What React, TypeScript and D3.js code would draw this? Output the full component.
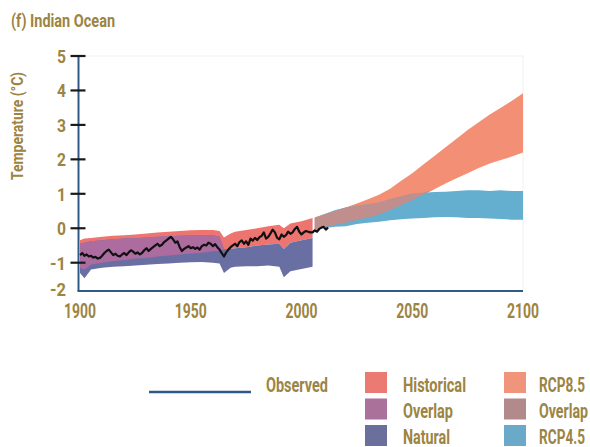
import React from "react";
import * as d3 from "d3";

// ---------- data ----------
const HIST_YEARS = [1900, 1902, 1905, 1910, 1915, 1920, 1925, 1930, 1935, 1940, 1945, 1950, 1955, 1960, 1963, 1965, 1968, 1970, 1975, 1980, 1985, 1990, 1992, 1995, 2000, 2005];
const HIST_UPPER = [-0.35, -0.3, -0.28, -0.25, -0.22, -0.2, -0.18, -0.15, -0.12, -0.1, -0.08, -0.06, -0.05, -0.05, -0.08, -0.27, -0.15, -0.1, -0.05, 0.0, 0.06, 0.1, 0.0, 0.14, 0.2, 0.3];
const HIST_LOWER = [-1.15, -1.2, -1.05, -1.0, -0.95, -0.92, -0.88, -0.86, -0.82, -0.79, -0.76, -0.73, -0.71, -0.67, -0.66, -0.62, -0.6, -0.58, -0.55, -0.5, -0.47, -0.45, -0.6, -0.42, -0.35, -0.28];
const NAT_UPPER = [-0.45, -0.42, -0.38, -0.35, -0.32, -0.3, -0.29, -0.27, -0.25, -0.23, -0.22, -0.2, -0.2, -0.2, -0.25, -0.6, -0.6, -0.58, -0.55, -0.5, -0.47, -0.45, -0.6, -0.42, -0.35, -0.28];
const NAT_LOWER = [-1.3, -1.45, -1.2, -1.15, -1.12, -1.1, -1.08, -1.06, -1.04, -1.02, -1.0, -0.99, -0.98, -1.0, -1.02, -1.3, -1.15, -1.12, -1.1, -1.1, -1.08, -1.12, -1.42, -1.25, -1.18, -1.12];

const RCP_YEARS = [2006, 2010, 2015, 2020, 2025, 2030, 2035, 2040, 2045, 2050, 2055, 2060, 2065, 2070, 2075, 2080, 2085, 2090, 2095, 2100];
const RCP85_UPPER = [0.32, 0.4, 0.5, 0.6, 0.72, 0.84, 0.97, 1.15, 1.38, 1.6, 1.85, 2.1, 2.35, 2.6, 2.85, 3.08, 3.3, 3.5, 3.7, 3.92];
const RCP85_LOWER = [-0.05, 0.02, 0.1, 0.16, 0.25, 0.31, 0.4, 0.53, 0.67, 0.82, 0.98, 1.13, 1.3, 1.45, 1.6, 1.75, 1.88, 1.98, 2.08, 2.2];
const RCP45_UPPER = [0.3, 0.4, 0.52, 0.6, 0.66, 0.7, 0.75, 0.84, 0.93, 1.0, 1.03, 1.05, 1.06, 1.08, 1.1, 1.1, 1.08, 1.1, 1.08, 1.08];
const RCP45_LOWER = [-0.05, 0.0, 0.04, 0.06, 0.12, 0.16, 0.19, 0.23, 0.26, 0.28, 0.3, 0.32, 0.33, 0.32, 0.3, 0.3, 0.28, 0.27, 0.25, 0.25];

const OBS_START = 1900;
const OBSERVED = [
  -0.78, -0.72, -0.8, -0.76, -0.82, -0.8, -0.85, -0.83, -0.88, -0.86,
  -0.8, -0.72, -0.66, -0.62, -0.7, -0.78, -0.74, -0.8, -0.82, -0.76,
  -0.72, -0.78, -0.7, -0.64, -0.68, -0.74, -0.7, -0.76, -0.72, -0.64,
  -0.58, -0.66, -0.6, -0.55, -0.5, -0.45, -0.52, -0.48, -0.4, -0.35,
  -0.3, -0.25, -0.32, -0.42, -0.38, -0.55, -0.66, -0.6, -0.56, -0.52,
  -0.58, -0.55, -0.6, -0.56, -0.62, -0.52, -0.48, -0.5, -0.42, -0.45,
  -0.52, -0.46, -0.55, -0.62, -0.72, -0.82, -0.7, -0.62, -0.55, -0.5,
  -0.45, -0.52, -0.4, -0.35, -0.45, -0.38, -0.48, -0.3, -0.36, -0.28,
  -0.34, -0.26, -0.22, -0.12, -0.3, -0.25, -0.15, -0.04, -0.12, -0.28,
  -0.32, -0.18, -0.25, -0.2, -0.1, -0.16, -0.12, -0.02, 0.04, -0.1,
  -0.18, -0.12, -0.08, -0.1, -0.12, -0.12, -0.06, -0.1, -0.02, 0.02,
  0.04, -0.04, 0.02,
];

const Y_TICKS = [5, 4, 3, 2, 1, 0, -1];
const Y_AXIS_MIN = -1.82;
const Y_BOTTOM_LABEL = "-2";
const X_TICKS = [1900, 1950, 2000, 2050, 2100];

const TITLE = "(f) Indian Ocean";
const Y_TITLE = "Temperature (°C)";
const OBS_LABEL = "Observed";
const LEGEND_COL1 = [
  { label: "Historical", color: "#ea7a72", w: 63 },
  { label: "Overlap", color: "#aa719b", w: 50 },
  { label: "Natural", color: "#6b6f9c", w: 47 },
];
const LEGEND_COL2 = [
  { label: "RCP8.5", color: "#f0957c", w: 46 },
  { label: "Overlap", color: "#b38a8b", w: 49 },
  { label: "RCP4.5", color: "#6ba9c9", w: 46 },
];

// ---------- styles ----------
const FONT = "Roboto, 'Liberation Sans', sans-serif";
const TXT = "#9c8443";
const AXIS = "#2f5a88";
const C_HIST = "#ee7470";
const C_NAT = "#6a6fa3";
const C_HOVL = "#ad6c9f";
const C_R85 = "#f38f75";
const C_R45 = "#64aed0";
const C_ROVL = "#c08e8c";

function Label(props: {
  x: number; y: number; size: number; w?: number; anchor?: "start" | "middle" | "end";
  dy?: string; transform?: string; children: React.ReactNode;
}) {
  const { x, y, size, w, anchor = "start", dy, transform, children } = props;
  return (
    <text
      x={x}
      y={y}
      dy={dy}
      transform={transform}
      textAnchor={anchor}
      fill={TXT}
      fontSize={size}
      fontWeight={700}
      textLength={w}
      lengthAdjust={w ? "spacingAndGlyphs" : undefined}
    >
      {children}
    </text>
  );
}

export default function App() {
  const x = d3.scaleLinear().domain([1900, 2100]).range([80, 523]);
  const y = d3.scaleLinear().domain([-1, 5]).range([262.7, 56]);

  type Band = { yr: number; lo: number; hi: number };
  const band = (years: number[], lo: number[], hi: number[]): Band[] =>
    years.map((yr, i) => ({ yr, lo: lo[i], hi: hi[i] }));
  const overlap = (years: number[], lo1: number[], hi1: number[], lo2: number[], hi2: number[]): Band[] =>
    years.map((yr, i) => ({ yr, lo: Math.max(lo1[i], lo2[i]), hi: Math.min(hi1[i], hi2[i]) }));

  const area = d3
    .area<Band>()
    .x((d) => x(d.yr))
    .y0((d) => y(d.lo))
    .y1((d) => y(Math.max(d.hi, d.lo)));

  const hist = band(HIST_YEARS, HIST_LOWER, HIST_UPPER);
  const nat = band(HIST_YEARS, NAT_LOWER, NAT_UPPER);
  const hov = overlap(HIST_YEARS, HIST_LOWER, HIST_UPPER, NAT_LOWER, NAT_UPPER);
  const r85 = band(RCP_YEARS, RCP85_LOWER, RCP85_UPPER);
  const r45 = band(RCP_YEARS, RCP45_LOWER, RCP45_UPPER);
  const rov = overlap(RCP_YEARS, RCP85_LOWER, RCP85_UPPER, RCP45_LOWER, RCP45_UPPER);

  const obsLine = d3
    .line<number>()
    .x((_, i) => x(OBS_START + i))
    .y((d) => y(d));

  const yBottom = y(Y_AXIS_MIN);
  const xLeft = x(1900) - 1.5;

  return (
    <div style={{ position: "absolute", left: 0, top: 0 }}>
      <svg width={590} height={447} style={{ display: "block", background: "#fff" }} fontFamily={FONT}>
        <Label x={11} y={27} size={19} w={104}>{TITLE}</Label>
        <Label x={0} y={0} size={16.5} w={108} anchor="middle" transform="translate(23,126) rotate(-90)">
          {Y_TITLE}
        </Label>

        {/* faint plot frame */}
        <rect x={xLeft} y={y(5)} width={x(2100) - xLeft} height={yBottom - y(5)} fill="none" stroke="#f1f1f1" strokeWidth={1} />

        {/* bands */}
        <path d={area(hist) || ""} fill={C_HIST} />
        <path d={area(nat) || ""} fill={C_NAT} />
        <path d={area(hov) || ""} fill={C_HOVL} />
        <path d={area(r85) || ""} fill={C_R85} />
        <path d={area(r45) || ""} fill={C_R45} />
        <path d={area(rov) || ""} fill={C_ROVL} />

        {/* observed */}
        <path d={obsLine(OBSERVED) || ""} fill="none" stroke="#111" strokeWidth={2.2} strokeLinejoin="round" />

        {/* axes */}
        <line x1={xLeft} x2={xLeft} y1={y(5)} y2={yBottom} stroke={AXIS} strokeWidth={2} />
        <line x1={xLeft - 1} x2={x(2100)} y1={yBottom} y2={yBottom} stroke={AXIS} strokeWidth={2} />
        {Y_TICKS.map((t) => (
          <g key={t}>
            <line x1={xLeft - 8} x2={xLeft + 7} y1={y(t)} y2={y(t)} stroke="#1a1a1a" strokeWidth={2.2} />
            <Label x={66} y={y(t)} dy="0.36em" anchor="end" size={19} w={t < 0 ? 16 : 9}>
              {String(t)}
            </Label>
          </g>
        ))}
        <Label x={66} y={yBottom - 2} dy="0.36em" anchor="end" size={19} w={16}>
          {Y_BOTTOM_LABEL}
        </Label>
        {X_TICKS.map((t) => (
          <Label key={t} x={x(t)} y={318} anchor="middle" size={21} w={32}>
            {String(t)}
          </Label>
        ))}

        {/* legend */}
        <line x1={149} x2={251} y1={392} y2={392} stroke={AXIS} strokeWidth={2.5} />
        <Label x={266} y={392} size={20} w={62}>{OBS_LABEL}</Label>
        {LEGEND_COL1.map((d, i) => (
          <g key={"c1" + i}>
            <rect x={365} y={372 + i * 26.5} width={22} height={21} fill={d.color} />
            <Label x={403} y={392 + i * 26} size={20} w={d.w}>{d.label}</Label>
          </g>
        ))}
        {LEGEND_COL2.map((d, i) => (
          <g key={"c2" + i}>
            <rect x={504} y={372 + i * 26.5} width={22} height={21} fill={d.color} />
            <Label x={539} y={392 + i * 26} size={20} w={d.w}>{d.label}</Label>
          </g>
        ))}
      </svg>
    </div>
  );
}
